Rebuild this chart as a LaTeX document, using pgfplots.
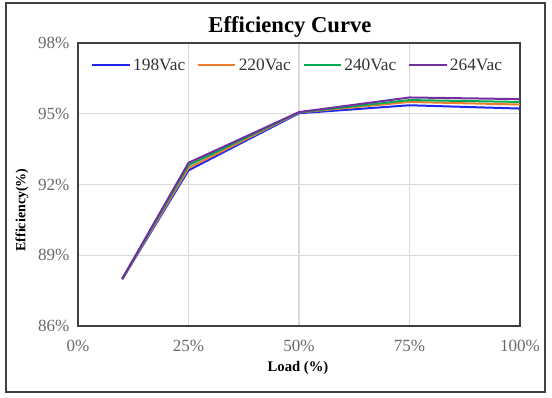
\documentclass[border=0pt]{standalone}
\usepackage{pgfplots}
\pgfplotsset{compat=1.18}
\usepackage{fontspec}
\setmainfont{Liberation Serif}
\definecolor{c198}{RGB}{30,40,240}
\definecolor{c220}{RGB}{237,125,49}
\definecolor{c240}{RGB}{0,170,80}
\definecolor{c264}{RGB}{112,48,160}
\definecolor{tickgray}{RGB}{105,105,105}
\begin{document}
\begin{tikzpicture}
\useasboundingbox (-58.5pt,-54pt) rectangle (355.5pt,244.5pt);
\draw[line width=1pt, draw=black!75] (-54pt,-49.5pt) rectangle (350.25pt,242.25pt);
\begin{axis}[
  at={(0pt,0pt)}, anchor=south west,
  scale only axis, width=331.5pt, height=212.25pt,
  xmin=0, xmax=100, ymin=86, ymax=98,
  xtick={0,25,50,75,100},
  xticklabels={0\%,25\%,50\%,75\%,100\%},
  ytick={86,89,92,95,98},
  yticklabels={86\%,89\%,92\%,95\%,98\%},
  major tick length=0pt,
  grid=major,
  grid style={draw=black!15, line width=0.8pt},
  axis line style={draw=black!75, line width=1.1pt},
  tick label style={font=\fontsize{12.8}{14}\selectfont, text=tickgray},
  /pgf/number format/assume math mode=true,
  yticklabel style={xshift=-3pt},
  xticklabel style={yshift=-7pt},
  legend columns=4,
  legend style={draw=none, fill=none, at={(0.498,0.965)}, anchor=north,
    font=\fontsize{13}{15}\selectfont, text=black!80,
    /tikz/every even column/.append style={column sep=7pt}},
  legend image code/.code={\draw[#1, line width=1.2pt] (0pt,0pt) -- (28pt,0pt);},
  every axis plot/.append style={line width=1.5pt},
]
\addplot[c198] coordinates {(10,87.98) (25,92.6) (50,95.02) (75,95.36) (100,95.22)};
\addlegendentry{198Vac}
\addplot[c220] coordinates {(10,87.99) (25,92.7) (50,95.05) (75,95.5) (100,95.39)};
\addlegendentry{220Vac}
\addplot[c240] coordinates {(10,88.0) (25,92.82) (50,95.06) (75,95.58) (100,95.5)};
\addlegendentry{240Vac}
\addplot[c264] coordinates {(10,88.0) (25,92.92) (50,95.07) (75,95.69) (100,95.62)};
\addlegendentry{264Vac}
\end{axis}
\node[font=\bfseries\fontsize{17}{20}\selectfont] at (159pt,224.5pt) {Efficiency Curve};
\node[font=\bfseries\fontsize{10.5}{12}\selectfont, rotate=90] at (-42pt,87pt) {Efficiency(\%)};
\node[font=\bfseries\fontsize{11}{13}\selectfont] at (165pt,-31.5pt) {Load (\%)};
\end{tikzpicture}
\end{document}
